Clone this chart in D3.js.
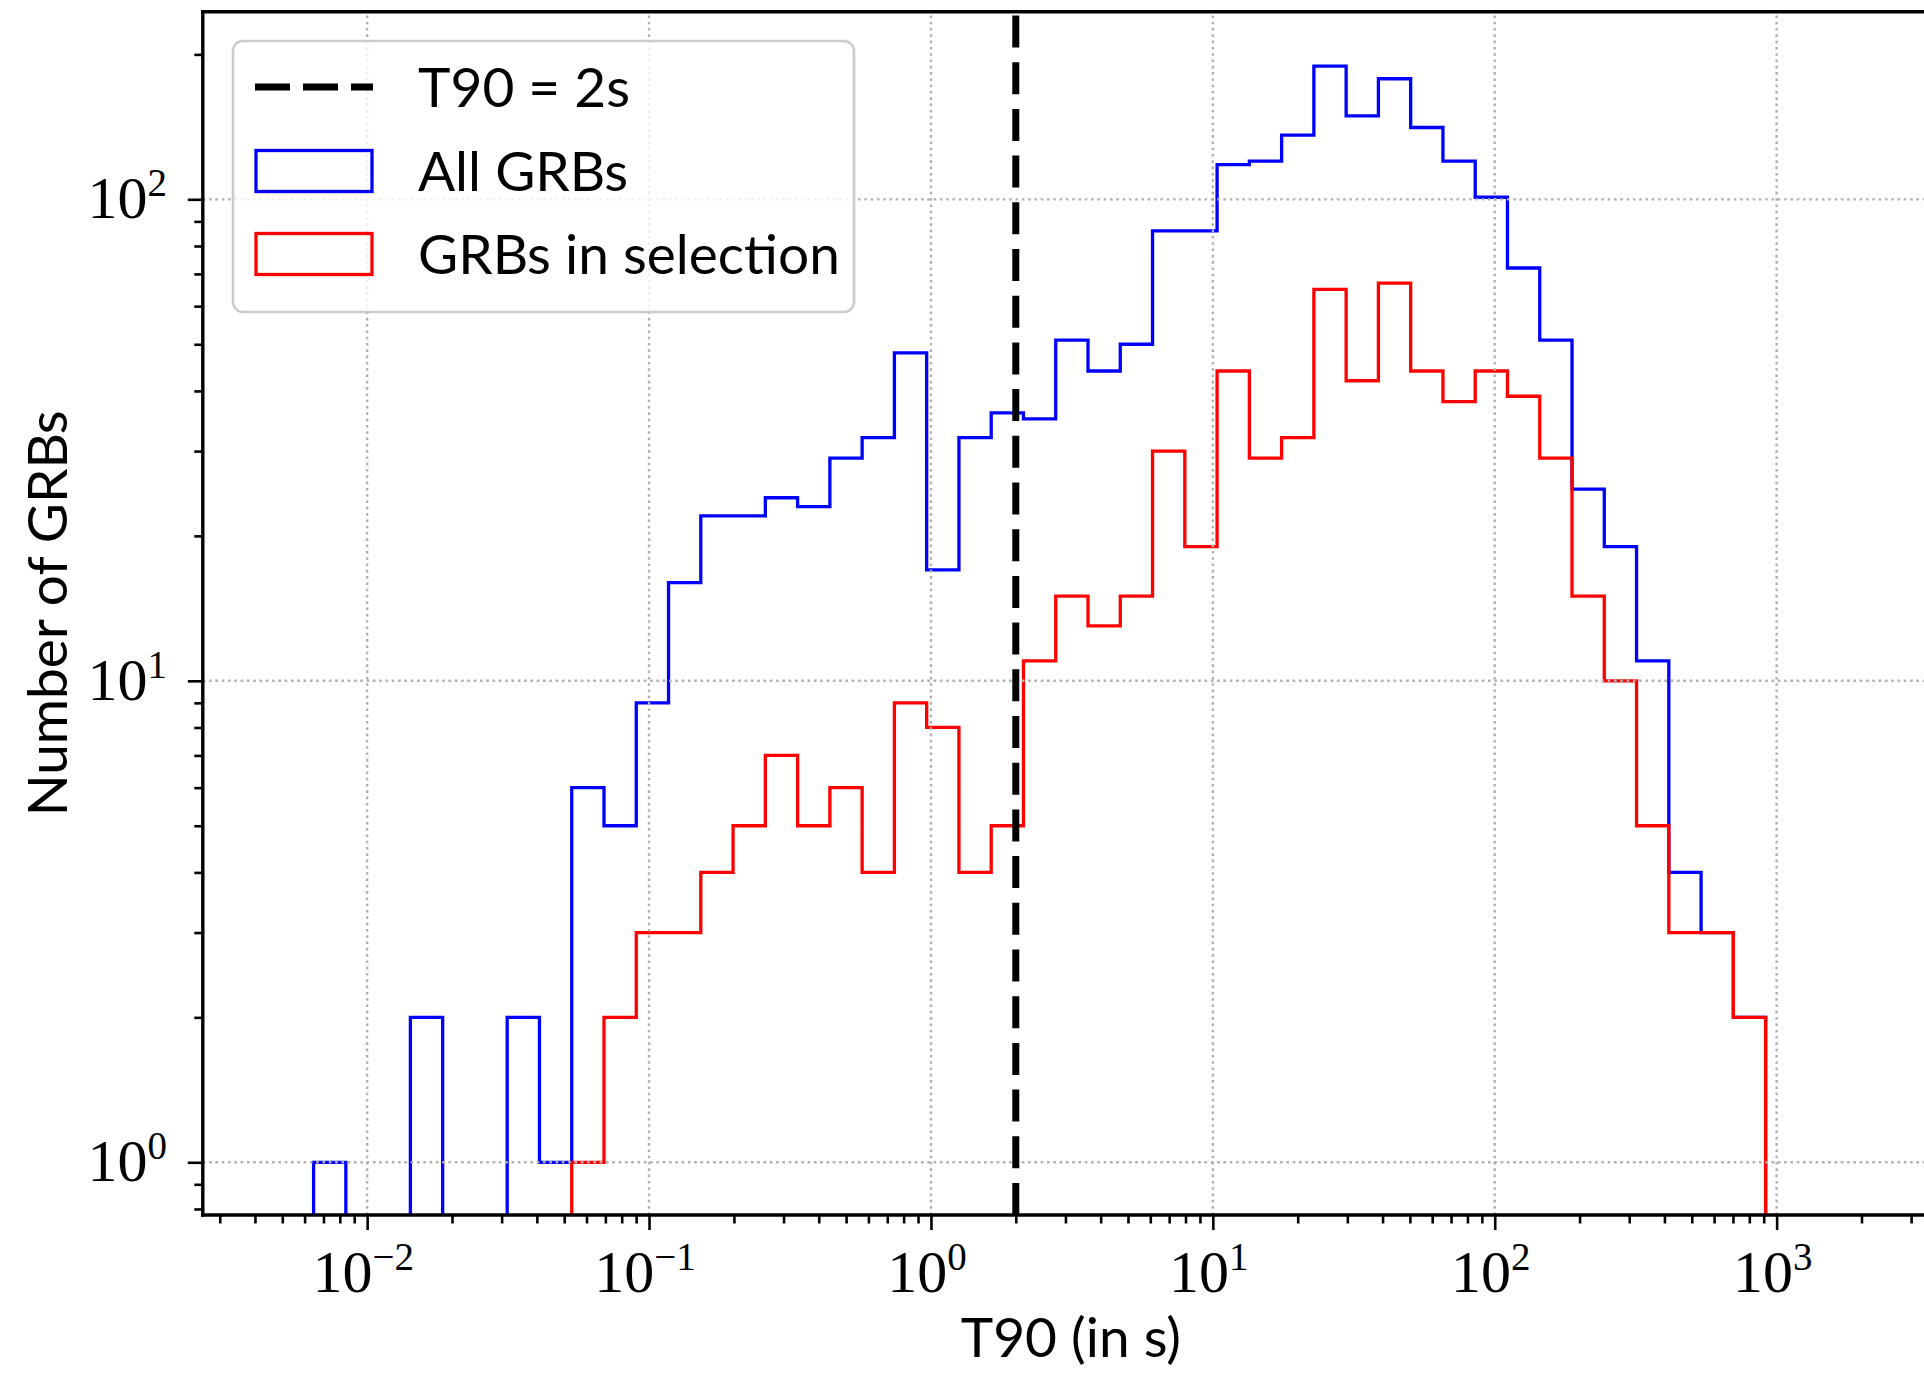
<!DOCTYPE html>
<html>
<head>
<meta charset="utf-8">
<script src="https://cdn.jsdelivr.net/npm/d3@7"></script>
<style>
  html, body { margin: 0; padding: 0; background: #ffffff; }
  svg { display: block; }
</style>
</head>
<body>
<svg id="chart" width="1924" height="1378"></svg>
<script>
// ---- data ---------------------------------------------------------------
// 45 logarithmic T90 bins between the shortest and the longest burst (s)
const binCount = 45;
const binLow = 0.006457;
const binHigh = 914;

// number of bursts per bin, whole catalogue
const allGRBs = [1, 0, 0, 2, 0, 0, 2, 1, 6, 5, 9, 16, 22, 22, 24, 23, 29, 32, 48, 17,
                 32, 36, 35, 51, 44, 50, 86, 86, 118, 120, 136, 189, 149, 178, 141, 120,
                 101, 72, 51, 25, 19, 11, 4, 3, 2];
// number of bursts per bin, selected sample
const selectedGRBs = [0, 0, 0, 0, 0, 0, 0, 0, 1, 2, 3, 3, 4, 5, 7, 5, 6, 4, 9, 8,
                      4, 5, 11, 15, 13, 15, 30, 19, 44, 29, 32, 65, 42, 67, 44, 38,
                      44, 39, 29, 15, 10, 5, 3, 3, 2];

const t90Cut = 2;                         // short / long separation (s)
const xTickExponents = [-2, -1, 0, 1, 2, 3];
const yTickExponents = [0, 1, 2];
const legendLabels = ["T90 = 2s", "All GRBs", "GRBs in selection"];
const xLabel = "T90 (in s)";
const yLabel = "Number of GRBs";

// ---- layout -------------------------------------------------------------
const plot = { left: 202.8, top: 11.7, right: 1939, bottom: 1215 };
const svg = d3.select("#chart");

const x = d3.scaleLog().domain([0.0026122, 3767]).range([plot.left, plot.right]);
const y = d3.scaleLog().domain([0.7772, 245.3]).range([plot.bottom, plot.top]);

const edges = d3.range(binCount + 1).map(i => binLow * Math.pow(binHigh / binLow, i / binCount));

const labelFont = "Lato, 'Open Sans', sans-serif";
const tickFont = "'Liberation Serif', 'DejaVu Serif', serif";

svg.append("defs").append("clipPath").attr("id", "plotClip")
  .append("rect")
  .attr("x", plot.left).attr("y", plot.top)
  .attr("width", plot.right - plot.left).attr("height", plot.bottom - plot.top);

// ---- histograms (step outlines) ----------------------------------------
function stepPoints(counts) {
  const below = y.domain()[0] / 4;       // empty bins drop below the axis
  const pts = [[x(edges[0]), y(below)]];
  counts.forEach((c, i) => {
    const v = c > 0 ? c : below;
    pts.push([x(edges[i]), y(v)]);
    pts.push([x(edges[i + 1]), y(v)]);
  });
  pts.push([x(edges[binCount]), y(below)]);
  return pts;
}
const line = d3.line();
const histLayer = svg.append("g").attr("clip-path", "url(#plotClip)");
histLayer.append("path")
  .attr("d", line(stepPoints(allGRBs)))
  .attr("fill", "none").attr("stroke", "#0000ff").attr("stroke-width", 3.3)
  .attr("stroke-linejoin", "miter");
histLayer.append("path")
  .attr("d", line(stepPoints(selectedGRBs)))
  .attr("fill", "none").attr("stroke", "#ff0000").attr("stroke-width", 3.3)
  .attr("stroke-linejoin", "miter");

// ---- grid (drawn above the step outlines) ------------------------------
const grid = svg.append("g").attr("clip-path", "url(#plotClip)")
  .attr("stroke", "#b0b0b0").attr("stroke-width", 2.4).attr("stroke-dasharray", "2.6,3.7");
grid.selectAll("line.vx").data(xTickExponents.concat([4])).join("line")
  .attr("x1", e => x(Math.pow(10, e))).attr("x2", e => x(Math.pow(10, e)))
  .attr("y1", plot.bottom).attr("y2", plot.top);
grid.selectAll("line.hy").data(yTickExponents).join("line")
  .attr("y1", e => y(Math.pow(10, e))).attr("y2", e => y(Math.pow(10, e)))
  .attr("x1", plot.left).attr("x2", plot.right);

// ---- T90 = 2 s separation ----------------------------------------------
svg.append("line")
  .attr("x1", x(t90Cut)).attr("x2", x(t90Cut))
  .attr("y1", plot.bottom).attr("y2", plot.top)
  .attr("stroke", "#000").attr("stroke-width", 7)
  .attr("stroke-dasharray", "32,14.7");

// ---- axes -----------------------------------------------------------------
function minorTicks(scale, lo, hi) {
  const out = [];
  const [d0, d1] = scale.domain();
  for (let k = lo; k <= hi; k++) {
    for (let m = 2; m <= 9; m++) {
      const v = m * Math.pow(10, k);
      if (v > d0 && v < d1) out.push(v);
    }
  }
  return out;
}
const xMajor = xTickExponents.map(e => Math.pow(10, e));
const yMajor = yTickExponents.map(e => Math.pow(10, e));

function styleAxis(g) {
  g.select(".domain").remove();
  g.selectAll(".tick line").attr("stroke", "#000").attr("stroke-width", 2.6);
  g.selectAll(".tick text").remove();
}

svg.append("g").attr("transform", `translate(0,${plot.bottom})`)
  .call(d3.axisBottom(x).tickValues(minorTicks(x, -3, 3)).tickSize(8.5).tickSizeOuter(0))
  .call(styleAxis);
svg.append("g").attr("transform", `translate(0,${plot.bottom})`)
  .call(d3.axisBottom(x).tickValues(xMajor).tickSize(15).tickSizeOuter(0))
  .call(styleAxis);
svg.append("g").attr("transform", `translate(${plot.left},0)`)
  .call(d3.axisLeft(y).tickValues(minorTicks(y, -1, 2)).tickSize(8.5).tickSizeOuter(0))
  .call(styleAxis);
svg.append("g").attr("transform", `translate(${plot.left},0)`)
  .call(d3.axisLeft(y).tickValues(yMajor).tickSize(15).tickSizeOuter(0))
  .call(styleAxis);

// spines
const spines = svg.append("g").attr("stroke", "#000").attr("stroke-width", 3.4)
  .attr("stroke-linecap", "square");
spines.append("line").attr("x1", plot.left).attr("x2", plot.left).attr("y1", plot.top).attr("y2", plot.bottom);
spines.append("line").attr("x1", plot.left).attr("x2", plot.right).attr("y1", plot.bottom).attr("y2", plot.bottom);
spines.append("line").attr("x1", plot.left).attr("x2", plot.right).attr("y1", plot.top).attr("y2", plot.top);
spines.append("line").attr("x1", plot.right).attr("x2", plot.right).attr("y1", plot.top).attr("y2", plot.bottom);

// power-of-ten tick labels
function powerLabel(sel, exp) {
  sel.append("tspan").text("10");
  sel.append("tspan").attr("dy", -22).attr("font-size", 39)
    .text(exp < 0 ? "\u2212" + Math.abs(exp) : String(exp));
}
svg.append("g").selectAll("text").data(xTickExponents).join("text")
  .attr("x", e => x(Math.pow(10, e)) - 4)
  .attr("y", 1292)
  .attr("text-anchor", "middle")
  .attr("font-family", tickFont).attr("font-size", 60).attr("fill", "#000")
  .each(function (e) { powerLabel(d3.select(this), e); });
svg.append("g").selectAll("text").data(yTickExponents).join("text")
  .attr("x", 167)
  .attr("y", e => y(Math.pow(10, e)) + 19)
  .attr("text-anchor", "end")
  .attr("font-family", tickFont).attr("font-size", 60).attr("fill", "#000")
  .each(function (e) { powerLabel(d3.select(this), e); });

// axis titles
svg.append("text")
  .attr("x", (plot.left + plot.right) / 2).attr("y", 1357)
  .attr("text-anchor", "middle")
  .attr("font-family", labelFont).attr("font-size", 55).attr("fill", "#000")
  .text(xLabel);
svg.append("text")
  .attr("transform", `translate(67,${(plot.top + plot.bottom) / 2}) rotate(-90)`)
  .attr("text-anchor", "middle")
  .attr("font-family", labelFont).attr("font-size", 55).attr("fill", "#000")
  .text(yLabel);

// ---- legend -------------------------------------------------------------
const legend = svg.append("g");
legend.append("rect")
  .attr("x", 233).attr("y", 41).attr("width", 621).attr("height", 271)
  .attr("rx", 10).attr("ry", 10)
  .attr("fill", "#fff").attr("fill-opacity", 0.8)
  .attr("stroke", "#cccccc").attr("stroke-width", 2.6);

const rowY = [87, 171, 254];
legend.append("line")
  .attr("x1", 255).attr("x2", 373).attr("y1", rowY[0]).attr("y2", rowY[0])
  .attr("stroke", "#000").attr("stroke-width", 7).attr("stroke-dasharray", "35,13");
[["#0000ff", rowY[1]], ["#ff0000", rowY[2]]].forEach(([c, cy]) => {
  legend.append("rect")
    .attr("x", 256).attr("y", cy - 20.5).attr("width", 116).attr("height", 41)
    .attr("fill", "none").attr("stroke", c).attr("stroke-width", 3.3);
});
legend.selectAll("text.lbl").data(legendLabels).join("text")
  .attr("x", 418).attr("y", (d, i) => rowY[i] + 20)
  .attr("font-family", labelFont).attr("font-size", 55).attr("fill", "#000")
  .text(d => d);
</script>
</body>
</html>
